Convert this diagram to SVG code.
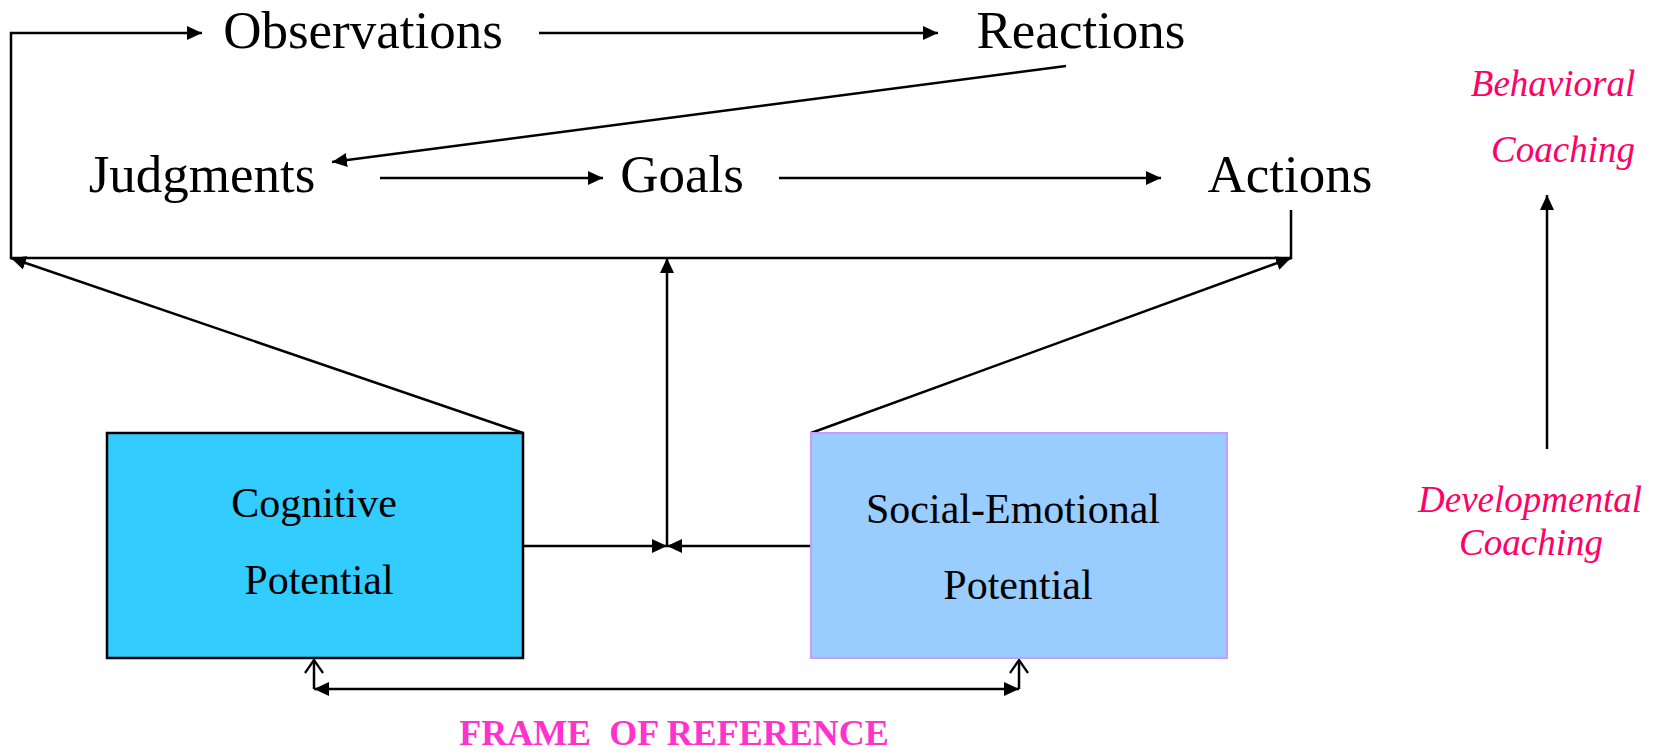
<svg xmlns="http://www.w3.org/2000/svg" width="1660" height="755" viewBox="0 0 1660 755">
<style>
.lbl{font-family:"Liberation Serif","Times New Roman",serif;font-size:53px;fill:#000;text-anchor:middle}
.box{font-family:"Liberation Serif","Times New Roman",serif;font-size:42px;fill:#000;text-anchor:middle}
.coach{font-family:"Liberation Serif","Times New Roman",serif;font-size:37px;font-style:italic;fill:#ff0066;text-anchor:middle}
.frame{font-family:"Liberation Serif","Times New Roman",serif;font-size:36px;font-weight:bold;fill:#ff33cc;text-anchor:middle;white-space:pre}
.ln{stroke:#000;stroke-width:2.5;fill:none}
</style>
<defs>
<marker id="ah" markerUnits="userSpaceOnUse" markerWidth="16" markerHeight="14" refX="15" refY="7" orient="auto-start-reverse" viewBox="0 0 16 14">
<path d="M0,0 L15,7 L0,14 z" fill="#000"/>
</marker>
<marker id="open" markerUnits="userSpaceOnUse" markerWidth="16" markerHeight="20" refX="14" refY="10" orient="auto" viewBox="0 0 16 20">
<path d="M1,1 L14,10 L1,19" fill="none" stroke="#000" stroke-width="2.2"/>
</marker>
</defs>
<rect width="1660" height="755" fill="#fff"/>
<g id="connectors">
<path class="ln" d="M1291,210 V258 H11 V33 H202" marker-end="url(#ah)"/>
<line class="ln" x1="539" y1="33" x2="938" y2="33" marker-end="url(#ah)"/>
<line class="ln" x1="1066" y1="66" x2="332" y2="162" marker-end="url(#ah)"/>
<line class="ln" x1="380" y1="178" x2="603" y2="178" marker-end="url(#ah)"/>
<line class="ln" x1="779" y1="178" x2="1161" y2="178" marker-end="url(#ah)"/>
<line class="ln" x1="523" y1="433" x2="11" y2="258" marker-end="url(#ah)"/>
<line class="ln" x1="811" y1="433" x2="1291" y2="258" marker-end="url(#ah)"/>
<line class="ln" x1="523" y1="546" x2="667" y2="546" marker-end="url(#ah)"/>
<line class="ln" x1="811" y1="546" x2="667" y2="546" marker-end="url(#ah)"/>
<line class="ln" x1="667" y1="546" x2="667" y2="258" marker-end="url(#ah)"/>
<line class="ln" x1="314" y1="689" x2="1019" y2="689" marker-start="url(#ah)" marker-end="url(#ah)"/>
<line class="ln" x1="314" y1="689" x2="314" y2="660" marker-end="url(#open)"/>
<line class="ln" x1="1019" y1="689" x2="1019" y2="660" marker-end="url(#open)"/>
<line class="ln" x1="1547" y1="449" x2="1547" y2="195" marker-end="url(#ah)"/>
</g>
<g id="observations"><text class="lbl" x="363" y="48">Observations</text></g>
<g id="reactions"><text class="lbl" x="1081" y="48">Reactions</text></g>
<g id="judgments"><text class="lbl" x="202" y="192">Judgments</text></g>
<g id="goals"><text class="lbl" x="682" y="192">Goals</text></g>
<g id="actions"><text class="lbl" x="1290" y="192">Actions</text></g>
<g id="cognitive">
<rect x="107" y="433" width="416" height="225" fill="#33ccff" stroke="#000" stroke-width="2.5"/>
<text class="box" x="314" y="517">Cognitive</text>
<text class="box" x="319" y="594">Potential</text>
</g>
<g id="social-emotional">
<rect x="811" y="433" width="416" height="225" fill="#99ccff" stroke="#cc99ff" stroke-width="2"/>
<text class="box" x="1013" y="523">Social-Emotional</text>
<text class="box" x="1018" y="599">Potential</text>
</g>
<g id="behavioral">
<text class="coach" x="1553" y="96">Behavioral</text>
<text class="coach" x="1563" y="162">Coaching</text>
</g>
<g id="developmental">
<text class="coach" x="1530" y="512">Developmental</text>
<text class="coach" x="1531" y="555">Coaching</text>
</g>
<g id="frame">
<text class="frame" x="674" y="745" xml:space="preserve">FRAME  OF REFERENCE</text>
</g>
</svg>
